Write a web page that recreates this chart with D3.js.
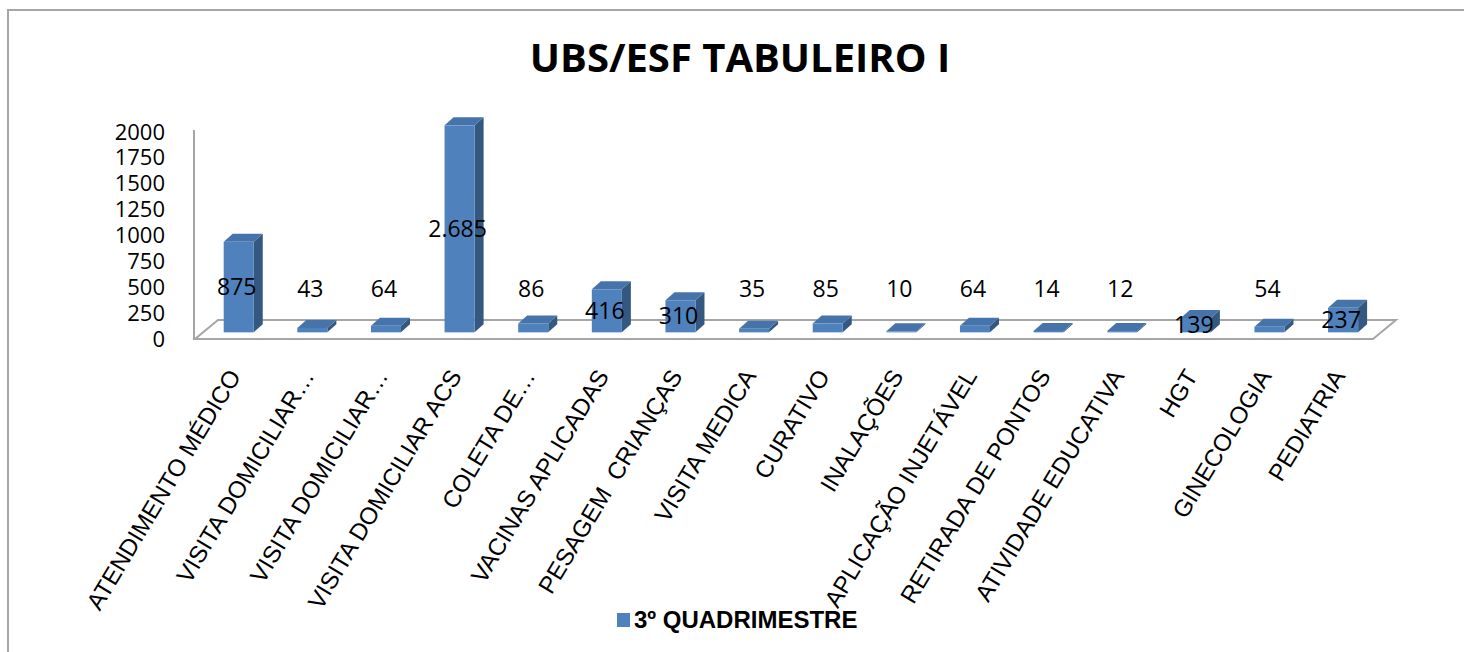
<!DOCTYPE html>
<html>
<head>
<meta charset="utf-8">
<script src="https://cdn.jsdelivr.net/npm/d3@7"></script>
<style>
  body { margin: 0; background: #fff; }
  svg { display: block; }
</style>
</head>
<body>
<div id="chart-area"></div>
<script>
const width = 1464;
const height = 652;

// chart data
const title = 'UBS/ESF TABULEIRO I';
const seriesName = '3º QUADRIMESTRE';
const categories = [
  'ATENDIMENTO MÉDICO',
  'VISITA DOMICILIAR…',
  'VISITA DOMICILIAR…',
  'VISITA DOMICILIAR ACS',
  'COLETA DE…',
  'VACINAS APLICADAS',
  'PESAGEM  CRIANÇAS',
  'VISITA MEDICA',
  'CURATIVO',
  'INALAÇÕES',
  'APLICAÇÃO INJETÁVEL',
  'RETIRADA DE PONTOS',
  'ATIVIDADE EDUCATIVA',
  'HGT',
  'GINECOLOGIA',
  'PEDIATRIA',
];
const values = [875, 43, 64, 2685, 86, 416, 310, 35, 85, 10, 64, 14, 12, 139, 54, 237];
const yTicks = [0, 250, 500, 750, 1000, 1250, 1500, 1750, 2000];

// 3d floor geometry
const floorLeft = 195;
const floorRight = 1373;
const floorFront = 339;
const depthX = 23;
const depthY = -19;
const barDX = 9;
const barDY = -8;

const colFront = '#4f81bd';
const colSide = '#34587f';
const colTop = '#4674aa';
const axisCol = '#a6a6a6';

const ptBR = d3.formatLocale({ decimal: ',', thousands: '.', grouping: [3], currency: ['R$', ''] });
const fmt = ptBR.format(',');

const svg = d3
  .select('#chart-area')
  .append('svg')
  .attr('width', width)
  .attr('height', height)
  .attr('viewBox', [0, 0, width, height]);

// chart border
svg
  .append('rect')
  .attr('x', 8)
  .attr('y', 10)
  .attr('width', width + 20)
  .attr('height', height + 20)
  .attr('fill', '#fff')
  .attr('stroke', axisCol)
  .attr('stroke-width', 2);

svg
  .append('text')
  .attr('x', 740)
  .attr('y', 72)
  .attr('text-anchor', 'middle')
  .attr('font-family', 'Open Sans')
  .attr('font-weight', 'bold')
  .attr('font-size', 40)
  .text(title);

const x = d3
  .scaleBand()
  .domain(d3.range(categories.length))
  .range([floorLeft + depthX * 0.3, floorRight + depthX * 0.3])
  .paddingInner(0.592)
  .paddingOuter(0.296);

const y = d3.scaleLinear().domain([0, 2000]).range([floorFront, 132]).clamp(true);

const barBase = floorFront + depthY * 0.35;

// y axis labels
const yAxis = svg
  .append('g')
  .attr('transform', 'translate(165,0)')
  .call(d3.axisLeft(y).tickValues(yTicks).tickFormat(d3.format('d')).tickSize(0).tickPadding(0));
yAxis.select('.domain').remove();
yAxis
  .selectAll('text')
  .attr('font-family', 'Open Sans')
  .attr('font-size', 22)
  .attr('fill', '#000');

// floor and front axis line
svg
  .append('path')
  .attr('fill', '#fff')
  .attr('stroke', axisCol)
  .attr('stroke-width', 2)
  .attr(
    'd',
    `M${floorLeft},${floorFront}L${floorRight},${floorFront}L${floorRight + depthX},${floorFront + depthY}L${floorLeft + depthX},${floorFront + depthY}Z`
  );
svg
  .append('line')
  .attr('x1', floorLeft - 1)
  .attr('x2', floorLeft - 1)
  .attr('y1', y(2000) - 2)
  .attr('y2', floorFront)
  .attr('stroke', axisCol)
  .attr('stroke-width', 2);

// bars
const bars = svg
  .append('g')
  .selectAll('g')
  .data(values)
  .join('g');

const barTop = (d) => barBase - (y(0) - y(d));

bars
  .append('path')
  .attr('fill', colSide)
  .attr('d', (d, i) => {
    const x1 = x(i) + x.bandwidth();
    return `M${x1},${barBase}L${x1},${barTop(d)}L${x1 + barDX},${barTop(d) + barDY}L${x1 + barDX},${barBase + barDY}Z`;
  });

bars
  .append('path')
  .attr('fill', colTop)
  .attr('d', (d, i) => {
    const x0 = x(i);
    const x1 = x0 + x.bandwidth();
    const t = barTop(d);
    return `M${x0},${t}L${x1},${t}L${x1 + barDX},${t + barDY}L${x0 + barDX},${t + barDY}Z`;
  });

bars
  .append('rect')
  .attr('x', (d, i) => x(i))
  .attr('y', (d) => barTop(d))
  .attr('width', x.bandwidth())
  .attr('height', (d) => y(0) - y(d))
  .attr('fill', colFront);

// data labels: centred in tall bars, lifted above small ones
svg
  .append('g')
  .selectAll('text')
  .data(values)
  .join('text')
  .attr('x', (d, i) => x(i) + x.bandwidth() / 2 - 2)
  .attr('y', (d) => {
    const h = y(0) - y(d);
    return h >= 12 ? barBase - h / 2 : barBase - 43;
  })
  .attr('dy', '0.35em')
  .attr('text-anchor', 'middle')
  .attr('font-family', 'Open Sans')
  .attr('font-size', 23)
  .attr('fill', '#000')
  .text((d) => fmt(d));

// category labels
svg
  .append('g')
  .selectAll('text')
  .data(categories)
  .join('text')
  .attr('transform', (d, i) => `translate(${x(i) + x.bandwidth() / 2 - 12},367) rotate(-59)`)
  .attr('dy', '0.72em')
  .attr('text-anchor', 'end')
  .attr('font-family', 'Liberation Sans')
  .attr('font-size', 24)
  .attr('fill', '#000')
  .style('white-space', 'pre')
  .text((d) => d);

// legend
const legend = svg.append('g').attr('transform', 'translate(617,613)');
legend.append('rect').attr('width', 13).attr('height', 14).attr('fill', colFront);
legend
  .append('text')
  .attr('x', 17)
  .attr('y', 15)
  .attr('font-family', 'Liberation Sans')
  .attr('font-weight', 'bold')
  .attr('font-size', 24)
  .attr('fill', '#000')
  .text(seriesName);
</script>
</body>
</html>
